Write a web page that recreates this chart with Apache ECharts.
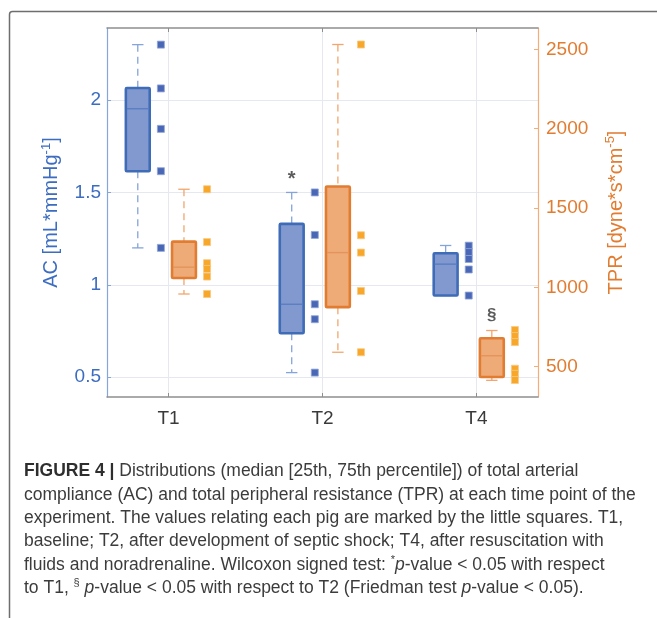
<!DOCTYPE html>
<html>
<head>
<meta charset="utf-8">
<script src="https://cdn.jsdelivr.net/npm/echarts@6/dist/echarts.min.js"></script>
<style>
html,body{margin:0;padding:0;background:#fff;}
#chart{width:657px;height:618px;}
</style>
</head>
<body>
<div id="chart"></div>
<script>
// ---------------- data ----------------
const categories = ['T1', 'T2', 'T4'];
const catPos = [1, 2, 3];
const acTicks = [0.5, 1, 1.5, 2];
const tprTicks = [500, 1000, 1500, 2000, 2500];

// box stats: [lower whisker, Q1, median, Q3, upper whisker]
const acBoxes = [
  [1.20, 1.615, 1.953, 2.065, 2.30],
  [0.525, 0.738, 0.895, 1.330, 1.50],
  [0.942, 0.942, 1.112, 1.171, 1.213]
];
const tprBoxes = [
  [958, 1059, 1127, 1288, 1618],
  [591, 875, 1219, 1635, 2530],
  [414, 435, 569, 679, 728]
];
// individual pig values
const acPigs = [
  [2.30, 2.063, 1.844, 1.615, 1.20],
  [1.50, 1.270, 0.895, 0.814, 0.525],
  [1.212, 1.177, 1.140, 1.083, 0.942]
];
const tprPigs = [
  [1618, 1285, 1152, 1116, 1068, 958],
  [2530, 1328, 1219, 977, 591],
  [731, 693, 655, 487, 455, 416]
];
// significance marks
const annotText = ['*', '§'];
const annotCat = [1, 2];       // index into catPos
const annotValue = [1.57, 826]; // AC value, TPR value

const captionLines = [
  '{b|FIGURE 4 |} Distributions (median [25th, 75th percentile]) of total arterial',
  'compliance (AC) and total peripheral resistance (TPR) at each time point of the',
  'experiment. The values relating each pig are marked by the little squares. T1,',
  'baseline; T2, after development of septic shock; T4, after resuscitation with',
  'fluids and noradrenaline. Wilcoxon signed test: {sup|*}{i|p}-value < 0.05 with respect',
  'to T1, {sup|§} {i|p}-value < 0.05 with respect to T2 (Friedman test {i|p}-value < 0.05).'
];

// ---------------- chart ----------------
const FONT = 'Liberation Sans, Arial, Helvetica, sans-serif';
const AC_OFF = -0.2, AC_DOT = -0.05, TPR_OFF = 0.1, TPR_DOT = 0.25;

function boxRenderer(c) {
  return function (params, api) {
    const x = api.value(0);
    const lo = api.coord([x, api.value(1)]);
    const q1 = api.coord([x, api.value(2)]);
    const md = api.coord([x, api.value(3)]);
    const q3 = api.coord([x, api.value(4)]);
    const hi = api.coord([x, api.value(5)]);
    const hw = api.size([0.155, 0])[0] / 2;
    const cw = api.size([0.074, 0])[0] / 2;
    const cx = q1[0];
    const wStyle = {stroke: c.whisker, lineWidth: 1.3, lineDash: [7, 5]};
    const capStyle = {stroke: c.whisker, lineWidth: 1.3};
    return {
      type: 'group',
      children: [
        {type: 'line', shape: {x1: cx, y1: hi[1], x2: cx, y2: q3[1]}, style: wStyle},
        {type: 'line', shape: {x1: cx, y1: q1[1], x2: cx, y2: lo[1]}, style: wStyle},
        {type: 'line', shape: {x1: cx - cw, y1: hi[1], x2: cx + cw, y2: hi[1]}, style: capStyle},
        {type: 'line', shape: {x1: cx - cw, y1: lo[1], x2: cx + cw, y2: lo[1]}, style: capStyle},
        {type: 'rect', shape: {x: cx - hw, y: q3[1], width: hw * 2, height: q1[1] - q3[1], r: 1},
          style: {fill: c.fill, stroke: c.border, lineWidth: 2.6}},
        {type: 'line', shape: {x1: cx - hw + 1, y1: md[1], x2: cx + hw - 1, y2: md[1]},
          style: {stroke: c.median, lineWidth: 1.4}}
      ]
    };
  };
}

const blue = {whisker: '#85a4da', fill: '#8299d0', border: '#3f6cb7', median: '#5a7ec2'};
const orange = {whisker: '#f2a66d', fill: '#eeab78', border: '#e27c31', median: '#e4945a'};

const acBoxData = acBoxes.map((b, i) => [catPos[i] + AC_OFF].concat(b));
const tprBoxData = tprBoxes.map((b, i) => [catPos[i] + TPR_OFF].concat(b));
const acDotData = [];
acPigs.forEach((arr, i) => arr.forEach(v => acDotData.push([catPos[i] + AC_DOT, v])));
const tprDotData = [];
tprPigs.forEach((arr, i) => arr.forEach(v => tprDotData.push([catPos[i] + TPR_DOT, v])));

const axisGrey = '#8e8e8e';
const gridCol = '#e5e8ef';

const option = {
  animation: false,
  backgroundColor: '#ffffff',
  grid: {left: 107, top: 28, right: 119, bottom: 221, containLabel: false},
  xAxis: [
    {
      type: 'value', min: 0.6, max: 3.4, position: 'bottom',
      axisLine: {show: true, lineStyle: {color: axisGrey, width: 1.5}},
      axisTick: {show: true, inside: true, length: 4, customValues: catPos, lineStyle: {color: axisGrey}},
      axisLabel: {customValues: catPos, formatter: v => categories[catPos.indexOf(v)],
        fontSize: 19, color: '#3a3a3a', fontFamily: FONT, margin: 12},
      splitLine: {show: true, lineStyle: {color: gridCol, width: 1}}
    },
    {
      type: 'value', min: 0.6, max: 3.4, position: 'top',
      axisLine: {show: true, lineStyle: {color: axisGrey, width: 1.5}},
      axisTick: {show: true, inside: true, length: 4, customValues: catPos, lineStyle: {color: axisGrey}},
      axisLabel: {show: false},
      splitLine: {show: false}
    }
  ],
  yAxis: [
    {
      type: 'value', position: 'left', min: 0.393, max: 2.39,
      axisLine: {show: true, lineStyle: {color: '#86a5db', width: 1.2}},
      axisTick: {show: true, inside: true, length: 4, customValues: acTicks, lineStyle: {color: '#86a5db'}},
      axisLabel: {customValues: acTicks, formatter: v => String(v), fontSize: 19,
        color: '#3d6dc0', fontFamily: FONT, margin: 6},
      splitLine: {show: true, lineStyle: {color: gridCol, width: 1}},
      name: 'AC [mL*mmHg{s|-1}]', nameLocation: 'middle', nameGap: 36, nameRotate: 90,
      nameTextStyle: {color: '#3d6dc0', fontSize: 20, fontFamily: FONT, lineHeight: 24,
        rich: {s: {fontSize: 13, color: '#3d6dc0', fontFamily: FONT, verticalAlign: 'top', lineHeight: 24}}}
    },
    {
      type: 'value', position: 'right', min: 309, max: 2634,
      axisLine: {show: true, lineStyle: {color: '#f2ad78', width: 1.2}},
      axisTick: {show: true, inside: true, length: 4, customValues: tprTicks, lineStyle: {color: '#f2ad78'}},
      axisLabel: {customValues: tprTicks, formatter: v => String(v), fontSize: 19,
        color: '#e27c31', fontFamily: FONT, margin: 8},
      splitLine: {show: false},
      name: 'TPR [dyne*s*cm{s|-5}]', nameLocation: 'middle', nameGap: 66, nameRotate: 90,
      nameTextStyle: {color: '#e27c31', fontSize: 20, fontFamily: FONT, lineHeight: 24,
        rich: {s: {fontSize: 13, color: '#e27c31', fontFamily: FONT, verticalAlign: 'top', lineHeight: 24}}}
    }
  ],
  series: [
    {type: 'custom', xAxisIndex: 0, yAxisIndex: 0, data: acBoxData, renderItem: boxRenderer(blue),
      encode: {x: 0, y: [1, 2, 3, 4, 5]}, z: 3, clip: false},
    {type: 'custom', xAxisIndex: 0, yAxisIndex: 1, data: tprBoxData, renderItem: boxRenderer(orange),
      encode: {x: 0, y: [1, 2, 3, 4, 5]}, z: 3, clip: false},
    {type: 'scatter', xAxisIndex: 0, yAxisIndex: 0, data: acDotData, symbol: 'rect', symbolSize: 7,
      itemStyle: {color: '#4967b5', borderColor: '#8fa5da', borderWidth: 0.8, opacity: 1}, z: 4},
    {type: 'scatter', xAxisIndex: 0, yAxisIndex: 1, data: tprDotData, symbol: 'rect', symbolSize: 7,
      itemStyle: {color: '#f7a72a', borderColor: '#f9c983', borderWidth: 0.8, opacity: 1}, z: 4},
    {type: 'scatter', xAxisIndex: 0, yAxisIndex: 0, symbolSize: 0, z: 5,
      data: [[catPos[annotCat[0]] + AC_OFF, annotValue[0], annotText[0]]],
      label: {show: true, position: 'inside', formatter: p => p.value[2], fontSize: 20,
        fontWeight: 'bold', color: '#333', fontFamily: FONT}},
    {type: 'scatter', xAxisIndex: 0, yAxisIndex: 1, symbolSize: 0, z: 5,
      data: [[catPos[annotCat[1]] + TPR_OFF, annotValue[1], annotText[1]]],
      label: {show: true, position: 'inside', formatter: p => p.value[2], fontSize: 17,
        fontWeight: 'bold', color: '#333', fontFamily: FONT}}
  ],
  graphic: [
    {type: 'rect', left: 7, top: 9, shape: {width: 720, height: 700, r: 3},
      style: {fill: 'none', stroke: '#6e6e6e', lineWidth: 1.5}, silent: true, z: -10}
  ].concat(captionLines.map((t, i) => ({
    type: 'text', left: 24, top: 461 + i * 23.3, silent: true,
    style: {
      text: t, fill: '#3c3c3c', fontSize: 17.5, fontFamily: FONT, lineHeight: 21,
      rich: {
        b: {fontWeight: 'bold', fontSize: 17.5, fill: '#2e2e2e', fontFamily: FONT, lineHeight: 21},
        i: {fontStyle: 'italic', fontSize: 17.5, fill: '#3c3c3c', fontFamily: FONT, lineHeight: 21},
        sup: {fontSize: 11, fill: '#3c3c3c', fontFamily: FONT, verticalAlign: 'top', lineHeight: 21}
      }
    }
  })))
};

const chart = echarts.init(document.getElementById('chart'), null, {renderer: 'canvas'});
chart.setOption(option);
</script>
</body>
</html>
